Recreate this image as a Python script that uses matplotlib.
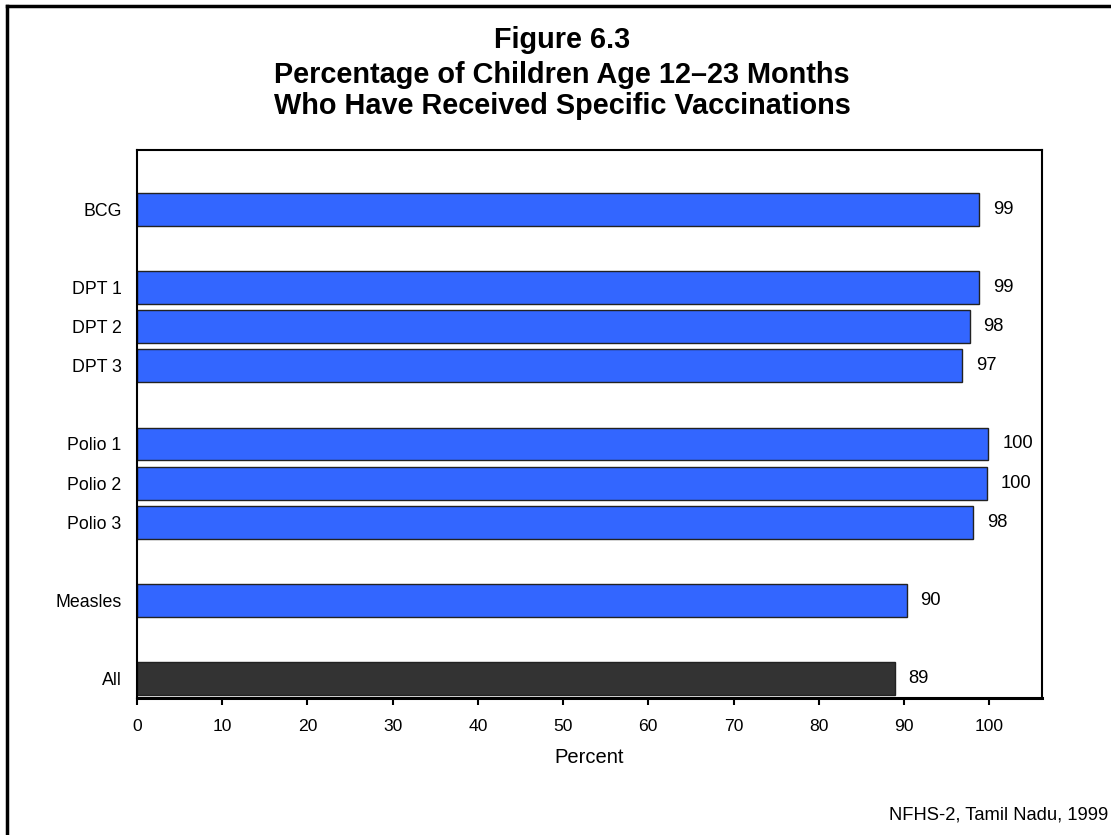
import numpy as np
import matplotlib.pyplot as plt
from matplotlib.lines import Line2D

plt.rcParams['font.family'] = ['Liberation Sans', 'DejaVu Sans']

## vaccination coverage, children 12-23 months
vaccines = ['BCG', 'DPT 1', 'DPT 2', 'DPT 3', 'Polio 1', 'Polio 2', 'Polio 3', 'Measles', 'All']
coverage = [98.8, 98.8, 97.7, 96.8, 99.9, 99.7, 98.1, 90.3, 88.9]
# slot positions (gaps between vaccine groups)
slots = [0, 2, 3, 4, 6, 7, 8, 10, 12]
colors = ['#3366FF'] * 8 + ['#333333']
title_lines = ['Figure 6.3',
               'Percentage of Children Age 12\u201323 Months',
               'Who Have Received Specific Vaccinations']

W, H = 1111, 835
fig = plt.figure(figsize=(W/100, H/100), dpi=100)
ax = fig.add_axes([137/W, 1-698/H, (1042-137)/W, (698-150)/H])

ax.barh(slots, coverage, height=0.84, color=colors, edgecolor='#222222', linewidth=1)
for y, v in zip(slots, coverage):
    ax.annotate('{0:.0f}'.format(v), (v, y), xytext=(10, 0), textcoords='offset points',
                va='center', ha='left', fontsize=13.2)

ax.set_ylim(12.49, -1.51)
ax.set_xlim(0, 106.2)
ax.set_yticks(slots)
ax.set_yticklabels(vaccines, fontsize=12.8)
ax.set_xticks(np.arange(0, 101, 10))
ax.tick_params(axis='x', labelsize=12.6, length=5, width=1.5, direction='out', pad=10)
ax.tick_params(axis='y', length=0, pad=11)
ax.set_xlabel('Percent', fontsize=14.5, labelpad=10)
for s in ax.spines.values():
    s.set_linewidth(1.5)
ax.spines['bottom'].set_linewidth(2.2)

# title, one line at a time (baselines in pixels)
for txt, base in zip(title_lines, [48, 83, 114]):
    fig.text(562/W, 1-base/H, txt, ha='center', va='baseline', fontsize=20.8, fontweight='bold')
fig.text(1108/W, 1-815/H, 'NFHS-2, Tamil Nadu, 1999', ha='right', va='center', fontsize=13.2)

# page frame
fig.add_artist(Line2D([7/W, 1], [1-6/H, 1-6/H], transform=fig.transFigure, color='black', lw=2.5))
fig.add_artist(Line2D([7/W, 7/W], [0, 1-6/H], transform=fig.transFigure, color='black', lw=2.5))

plt.savefig('out.png', dpi=100)
